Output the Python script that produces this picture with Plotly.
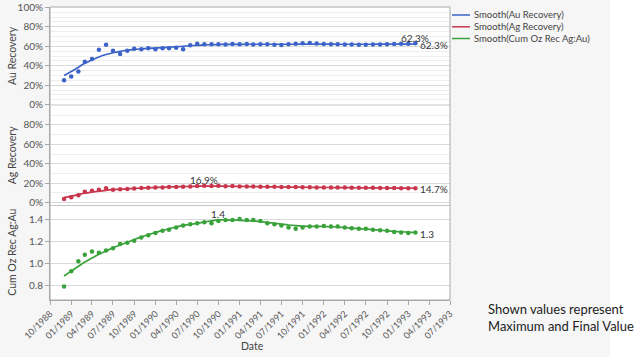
import plotly.graph_objects as go

# ---------------- data ----------------
months = [
    "1988-12-01",
    "1989-01-01", "1989-02-01", "1989-03-01", "1989-04-01", "1989-05-01", "1989-06-01",
    "1989-07-01", "1989-08-01", "1989-09-01", "1989-10-01", "1989-11-01", "1989-12-01",
    "1990-01-01", "1990-02-01", "1990-03-01", "1990-04-01", "1990-05-01", "1990-06-01",
    "1990-07-01", "1990-08-01", "1990-09-01", "1990-10-01", "1990-11-01", "1990-12-01",
    "1991-01-01", "1991-02-01", "1991-03-01", "1991-04-01", "1991-05-01", "1991-06-01",
    "1991-07-01", "1991-08-01", "1991-09-01", "1991-10-01", "1991-11-01", "1991-12-01",
    "1992-01-01", "1992-02-01", "1992-03-01", "1992-04-01", "1992-05-01", "1992-06-01",
    "1992-07-01", "1992-08-01", "1992-09-01", "1992-10-01", "1992-11-01", "1992-12-01",
    "1993-01-01", "1993-02-01",
]

au_recovery = [
    25, 29, 34, 44, 47, 56.5, 61.5, 55.5, 52, 55.5, 57.5, 57, 58, 57, 58, 58, 58.5, 57,
    61, 62.5, 62, 62, 62, 61.8, 62.2, 62, 62.3, 61.8, 62, 62, 61.5, 61.3, 62, 62.5, 63,
    63.3, 62.8, 62.3, 62, 62, 61.8, 61.7, 61.5, 61.5, 61.8, 61.8, 62, 62.2, 62.5, 62.7, 63,
]
au_smooth = [
    30, 34, 38.5, 42.5, 46, 49, 51.5, 53.3, 54.8, 55.9, 56.7, 57.3, 57.8, 58.2, 58.6, 59.0,
    59.5, 60.0, 60.5, 61.0, 61.4, 61.6, 61.8, 61.9, 62.0, 62.0, 62.05, 62.05, 62.05, 62.05,
    62.05, 62.05, 62.06, 62.08, 62.1, 62.12, 62.12, 62.12, 62.1, 62.08, 62.06, 62.05, 62.05,
    62.06, 62.08, 62.1, 62.14, 62.18, 62.22, 62.26, 62.3,
]

ag_recovery = [
    3.6, 5.4, 7.4, 11, 12.2, 13.2, 14.6, 13.2, 13.6, 14, 14.5, 15, 15.2, 15.5, 15.6, 15.9,
    16, 16.2, 16.4, 17, 17.3, 17, 17.3, 16.8, 16.9, 16.6, 16.5, 16.4, 16.3, 16.2, 16.2, 16.0,
    16.0, 15.9, 15.8, 15.7, 15.6, 15.6, 15.5, 15.4, 15.4, 15.3, 15.2, 15.1, 15.1, 15.0, 14.9,
    14.9, 14.8, 14.8, 14.8,
]
ag_smooth = [
    5.0, 6.6, 8.2, 9.6, 10.8, 11.8, 12.6, 13.2, 13.7, 14.1, 14.5, 14.9, 15.2, 15.5, 15.8, 16.0,
    16.2, 16.4, 16.6, 16.8, 16.92, 16.9, 16.86, 16.8, 16.7, 16.6, 16.5, 16.4, 16.3, 16.2, 16.1,
    16.0, 15.9, 15.8, 15.75, 15.7, 15.6, 15.5, 15.45, 15.4, 15.3, 15.25, 15.2, 15.1, 15.05,
    15.0, 14.95, 14.9, 14.8, 14.75, 14.7,
]

cum_oz_ratio = [
    0.79, 0.93, 1.02, 1.08, 1.11, 1.10, 1.12, 1.14, 1.18, 1.19, 1.21, 1.24, 1.26, 1.28, 1.30,
    1.31, 1.33, 1.35, 1.36, 1.37, 1.38, 1.37, 1.39, 1.40, 1.40, 1.41, 1.40, 1.40, 1.39, 1.37,
    1.36, 1.35, 1.33, 1.32, 1.33, 1.34, 1.34, 1.345, 1.34, 1.34, 1.33, 1.325, 1.32, 1.32,
    1.31, 1.305, 1.30, 1.29, 1.285, 1.28, 1.285,
]
cum_smooth = [
    0.886, 0.93, 0.975, 1.015, 1.05, 1.085, 1.115, 1.145, 1.17, 1.195, 1.22, 1.245, 1.265,
    1.285, 1.305, 1.32, 1.335, 1.35, 1.36, 1.37, 1.38, 1.392, 1.401, 1.400, 1.399, 1.397,
    1.394, 1.39, 1.385, 1.378, 1.37, 1.362, 1.354, 1.348, 1.344, 1.342, 1.341, 1.340, 1.338,
    1.335, 1.331, 1.326, 1.321, 1.316, 1.311, 1.306, 1.301, 1.296, 1.292, 1.288, 1.285,
]

series_names = ["Au Recovery", "Ag Recovery", "Cum Oz Rec Ag:Au"]
colors = ["#3b63c8", "#c8374e", "#3aa23a"]

x_range = ["1988-10-01", "1993-07-01"]
top_ticks = [0, 20, 40, 60, 80, 100]
mid_ticks = [0, 20, 40, 60, 80]
bot_ticks = [0.8, 1.0, 1.2, 1.4]

# ---------------- layout geometry (pixels) ----------------
W, H = 640, 357
L, R, T, B = 50, 190, 7, 57
PW, PH = W - L - R, H - T - B


def px(xp):
    return (xp - L) / PW


def py(yp):
    return (T + PH - yp) / PH


bot_dom = [0, py(205.5)]
mid_dom = [py(205.5), py(105)]
top_dom = [py(105), 1]

FONT = "Lato"
TICKC = "#555555"
AXC = "#a8a8a8"
GRID = "#dadada"
MINOR = "#eeeeee"

fig = go.Figure()

panels = [
    (au_recovery, au_smooth, "y3", True),
    (ag_recovery, ag_smooth, "y2", True),
    (cum_oz_ratio, cum_smooth, "y", False),
]

annotations = []
for k, (pts, sm, yax, pct) in enumerate(panels):
    c = colors[k]
    fig.add_trace(go.Scatter(x=months, y=pts, mode="markers", yaxis=yax,
                             marker=dict(size=4.5, color=c), showlegend=False,
                             hoverinfo="skip"))
    fig.add_trace(go.Scatter(x=months, y=sm, mode="lines", yaxis=yax,
                             line=dict(color=c, width=1.7, shape="spline"),
                             showlegend=False))
    imax = max(range(len(sm)), key=lambda i: sm[i])
    fmt = (lambda v: f"{v:.1f}%") if pct else (lambda v: f"{v:.1f}")
    annotations.append(dict(x=months[imax], y=sm[imax], xref="x", yref=yax,
                            text=fmt(sm[imax]), showarrow=False, xanchor="center",
                            yanchor="middle", yshift=6,
                            font=dict(family=FONT, size=10, color="#333333")))
    annotations.append(dict(x=months[-1], y=sm[-1], xref="x", yref=yax,
                            text=fmt(sm[-1]), showarrow=False, xanchor="left",
                            yanchor="middle", xshift=3, yshift=-1,
                            font=dict(family=FONT, size=10, color="#333333")))

# axis titles
for name, yc in zip(series_names, [(T + 105) / 2, (105 + 205.5) / 2, (205.5 + T + PH) / 2]):
    annotations.append(dict(x=px(12), y=py(yc), xref="paper", yref="paper", text=name,
                            textangle=-90, showarrow=False, xanchor="center",
                            yanchor="middle",
                            font=dict(family=FONT, size=10.5, color="#444444")))
annotations.append(dict(x=px(252), y=py(345.5), xref="paper", yref="paper", text="Date",
                        showarrow=False, xanchor="center", yanchor="middle",
                        font=dict(family=FONT, size=10.5, color="#444444")))

# legend (manual)
shapes = []
leg_y = [15, 26.8, 38.5]
for k, name in enumerate(series_names):
    shapes.append(dict(type="line", xref="paper", yref="paper", x0=px(452), x1=px(470),
                       y0=py(leg_y[k]), y1=py(leg_y[k]),
                       line=dict(color=colors[k], width=1.5)))
    annotations.append(dict(x=px(472), y=py(leg_y[k]), xref="paper", yref="paper",
                            text=f"Smooth({name})", showarrow=False, xanchor="left",
                            yanchor="middle",
                            font=dict(family=FONT, size=9.5, color="#444444")))

# note text
for txt, yy in [("Shown values represent", 309.3), ("Maximum and Final Value", 325.7)]:
    annotations.append(dict(x=px(486), y=py(yy), xref="paper", yref="paper", text=txt,
                            showarrow=False, xanchor="left", yanchor="middle",
                            font=dict(family=FONT, size=13, color="#222222")))

# white strip at the right edge (outside the gray frame)
shapes.append(dict(type="rect", xref="paper", yref="paper", x0=px(610), x1=px(660),
                   y0=py(-20), y1=py(380), fillcolor="white", line=dict(width=0),
                   layer="below"))
# panel separators and border
for yy in [py(105), py(205.5)]:
    shapes.append(dict(type="line", xref="paper", yref="paper", x0=0, x1=1, y0=yy, y1=yy,
                       line=dict(color="#c4c4c4", width=1)))
shapes.append(dict(type="rect", xref="paper", yref="paper", x0=0, x1=1, y0=0, y1=1,
                   line=dict(color=AXC, width=1), fillcolor="rgba(0,0,0,0)"))

tickfont = dict(family=FONT, size=10, color=TICKC)
common_y = dict(showline=True, linecolor=AXC, ticks="outside", ticklen=4,
                tickcolor=AXC, gridcolor=GRID, zeroline=False, tickfont=tickfont,
                fixedrange=True, automargin=False)

fig.update_layout(
    width=W, height=H,
    margin=dict(l=L, r=R, t=T, b=B, autoexpand=False),
    paper_bgcolor="#f6f6f6",
    plot_bgcolor="white",
    showlegend=False,
    xaxis=dict(type="date", range=x_range, tick0="1988-10-01", dtick="M3",
               tickformat="%m/%Y", tickangle=-45, showline=True, linecolor=AXC,
               ticks="outside", ticklen=4, tickcolor=AXC, showgrid=False,
               tickfont=dict(family=FONT, size=9, color=TICKC), anchor="y",
               zeroline=False, automargin=False, fixedrange=True),
    yaxis=dict(domain=bot_dom, range=[0.665, 1.533], tickvals=bot_ticks,
               ticktext=[f"{v:.1f}" for v in bot_ticks], **common_y),
    yaxis2=dict(domain=mid_dom, range=[-3.1, 100.6], tickvals=mid_ticks,
                ticktext=[f"{v}%" for v in mid_ticks],
                minor=dict(tickvals=[10, 30, 50, 70, 90], showgrid=True,
                           gridcolor=MINOR, ticks=""),
                **common_y),
    yaxis3=dict(domain=top_dom, range=[-0.3, 100.3], tickvals=top_ticks,
                ticktext=[f"{v}%" for v in top_ticks],
                minor=dict(tickvals=[v for v in range(5, 100, 5) if v % 20 != 0],
                           showgrid=True, gridcolor=MINOR, ticks=""),
                **common_y),
    annotations=annotations,
    shapes=shapes,
)

fig.write_html("out.html", config={"displayModeBar": False},
               post_script="document.body.style.margin='0';document.body.style.padding='0';")
